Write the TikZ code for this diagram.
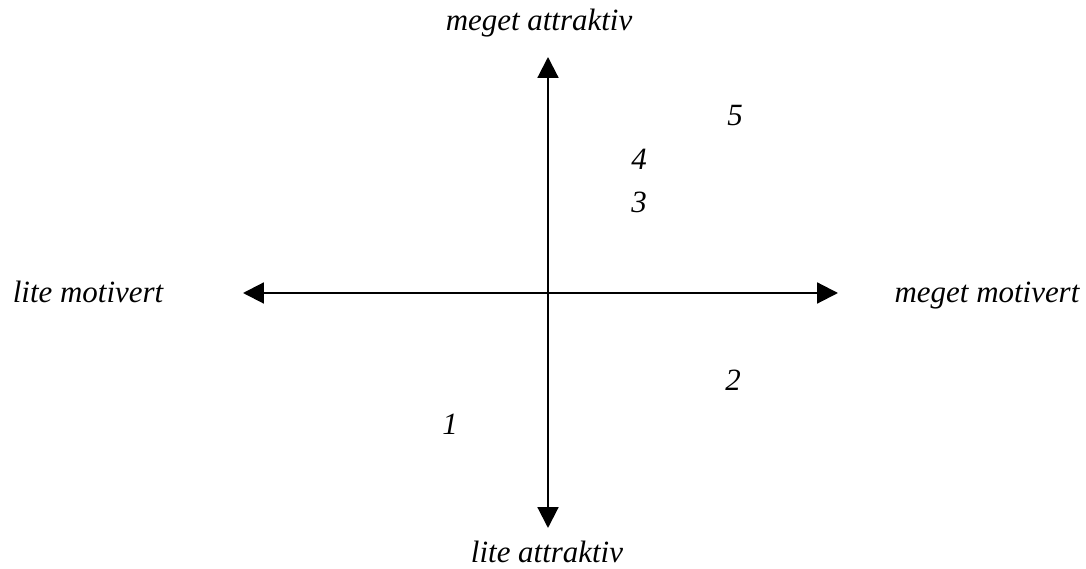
\documentclass[tikz,border=0pt]{standalone}
\usepackage{fontspec}
\setmainfont{Liberation Serif}
\usetikzlibrary{arrows.meta,positioning}

\begin{document}
\begin{tikzpicture}[x=0.025cm, y=-0.025cm,
    lbl/.style={font=\fontsize{22}{24}\selectfont\itshape, inner sep=0pt, anchor=base},
    axis/.style={line width=1.5pt, {Triangle[length=0.52cm,width=0.52cm]}-{Triangle[length=0.52cm,width=0.52cm]}}
]
    \useasboundingbox (0,0) rectangle (1086,569);
    % axes
    \coordinate (west) at (243,293);
    \coordinate (east) at (838,293);
    \coordinate (north) at (548,57);
    \coordinate (south) at (548,528);
    \draw[axis] (west) -- (east);
    \draw[axis] (north) -- (south);
    % axis labels
    \node[lbl] (hiattr) at (539,31) {meget attraktiv};
    \node[lbl] (loattr) at (547,563) {lite attraktiv};
    \node[lbl] (lomot) at (88,303) {lite motivert};
    \node[lbl] (himot) at (987,303) {meget motivert};
    % points
    \node[lbl] (p5) at (735,126) {5};
    \node[lbl] (p4) at (639,170) {4};
    \node[lbl] (p3) at (639,213) {3};
    \node[lbl] (p2) at (733,391) {2};
    \node[lbl] (p1) at (450,435) {1};
\end{tikzpicture}
\end{document}
